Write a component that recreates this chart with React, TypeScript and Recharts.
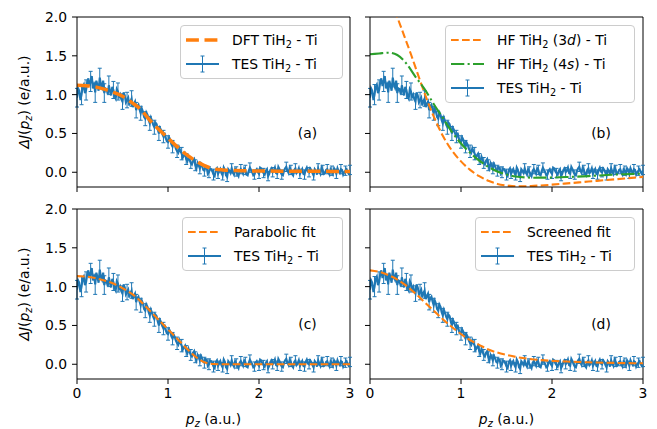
import React from "react";
import { ComposedChart, Line, XAxis, YAxis, ErrorBar, ReferenceLine } from "recharts";

/* ── Colours / fonts ─────────────────────────────────── */

const FONT = "'DejaVu Sans', sans-serif";
const FS = 13.9;
const BLUE = "#1f77b4";
const ORANGE = "#ff7f0e";
const GREEN = "#2ca02c";

/* ── Data ────────────────────────────────────────────── */

// TES measurement, p_z = 0 … 3 a.u. in steps of 0.0125
const P_STEP = 0.0125;
const TES = [
  0.96, 1.08, 1.05, 0.93, 1.0, 1.1, 1.13, 1.02, 1.06, 1.16, 1.21, 1.11, 1.17, 1.24, 1.08, 1.15, 1.03, 1.18, 1.12, 1.05,
  1.22, 1.13, 1.09, 1.18, 1.02, 1.08, 1.07, 1.01, 1.12, 1.05, 0.99, 1.1, 1.06, 0.98, 0.95, 1.07, 1.04, 0.97, 1.0, 0.94,
  0.91, 1.03, 0.99, 0.9, 0.93, 0.96, 0.86, 0.92, 0.95, 0.84, 0.88, 0.91, 0.8, 0.85, 0.87, 0.81, 0.76, 0.82, 0.78, 0.71,
  0.69, 0.77, 0.74, 0.67, 0.63, 0.7, 0.66, 0.61, 0.58, 0.64, 0.62, 0.55, 0.5, 0.57, 0.54, 0.49, 0.46, 0.51, 0.44, 0.4,
  0.39, 0.45, 0.42, 0.36, 0.33, 0.38, 0.35, 0.3, 0.27, 0.25, 0.31, 0.27, 0.24, 0.19, 0.22, 0.24, 0.17, 0.14, 0.2, 0.16,
  0.12, 0.1, 0.15, 0.17, 0.09, 0.05, 0.12, 0.09, 0.05, 0.11, 0.08, 0.03, 0.02, 0.07, 0.06, -0.02, 0.0, 0.05, 0.04, 0.01,
  -0.03, -0.05, 0.03, 0.05, -0.02, 0.01, 0.04, -0.01, -0.04, 0.06, 0.03, -0.04, -0.06, 0.04, 0.02, -0.01, 0.05, 0.0, -0.03, 0.04,
  0.01, -0.02, -0.05, 0.02, 0.04, 0.01, -0.02, 0.05, 0.03, -0.03, -0.04, 0.02, 0.06, 0.03, 0.0, -0.04, -0.03, 0.02, 0.04, 0.0,
  -0.02, 0.06, 0.05, 0.01, -0.01, -0.03, 0.02, 0.04, -0.05, -0.02, 0.03, 0.05, 0.0, 0.02, 0.06, -0.01, -0.02, 0.07, 0.04, 0.0,
  -0.03, -0.04, 0.02, 0.05, 0.07, 0.02, -0.01, 0.06, 0.03, -0.02, -0.04, 0.03, 0.05, -0.01, 0.01, 0.05, -0.02, 0.01, 0.04, -0.02,
  -0.03, 0.03, 0.06, 0.01, 0.0, 0.05, 0.03, -0.01, -0.04, 0.04, 0.02, -0.03, 0.05, 0.01, -0.02, 0.06, 0.03, -0.02, -0.01, 0.03,
  0.04, 0.0, -0.03, 0.04, 0.02, -0.02, 0.05, 0.02, -0.02, 0.05, 0.01, -0.01, 0.04, 0.03, -0.03, 0.0, 0.02, 0.04, 0.0, -0.02,
  0.03,
];

// error bars on every 4th TES point (every 0.05 a.u.)
const ERR_EVERY = 4;
const TES_ERR = [
  0.12, 0.13, 0.13, 0.13, 0.13, 0.12, 0.12, 0.12, 0.11, 0.11,
  0.1, 0.1, 0.1, 0.1, 0.09, 0.09, 0.09, 0.09, 0.09, 0.08,
  0.08, 0.08, 0.08, 0.08, 0.07, 0.07, 0.07, 0.07, 0.07, 0.07,
  0.07, 0.06, 0.06, 0.06, 0.06, 0.06, 0.06, 0.06, 0.06, 0.06,
  0.06, 0.06, 0.06, 0.06, 0.06, 0.06, 0.06, 0.06, 0.06, 0.06,
  0.06, 0.06, 0.06, 0.06, 0.06, 0.06, 0.06, 0.06, 0.06, 0.06, 0.06,
];

const FIT_P = [0, 0.1, 0.2, 0.3, 0.4, 0.5, 0.6, 0.7, 0.8, 0.9, 1.0, 1.1, 1.2, 1.3, 1.4, 1.5, 1.6, 1.8, 2.0, 2.2, 2.4, 2.6, 2.8, 3.0];
const DFT = [1.12, 1.115, 1.1, 1.07, 1.03, 0.98, 0.9, 0.81, 0.67, 0.55, 0.44, 0.33, 0.23, 0.15, 0.085, 0.045, 0.03, 0.02, 0.016, 0.014, 0.013, 0.012, 0.011, 0.01];
const PARABOLIC = [1.135, 1.13, 1.11, 1.08, 1.04, 0.98, 0.91, 0.81, 0.69, 0.57, 0.45, 0.33, 0.21, 0.1, 0.025, 0.003, 0, 0, 0, 0, 0, 0, 0, 0];
const SCREENED = [1.21, 1.19, 1.15, 1.09, 1.01, 0.91, 0.8, 0.69, 0.58, 0.48, 0.39, 0.31, 0.25, 0.19, 0.15, 0.12, 0.095, 0.062, 0.044, 0.033, 0.025, 0.019, 0.015, 0.012];
const HF_4S = [1.52, 1.53, 1.54, 1.51, 1.4, 1.23, 1.07, 0.88, 0.7, 0.52, 0.37, 0.25, 0.15, 0.07, 0.01, -0.03, -0.055, -0.07, -0.068, -0.06, -0.05, -0.035, -0.025, -0.018];

const HF_3D_P = [0.2, 0.25, 0.3, 0.35, 0.4, 0.45, 0.5, 0.55, 0.6, 0.65, 0.7, 0.8, 0.9, 1.0, 1.1, 1.2, 1.3, 1.4, 1.5, 1.6, 1.7, 1.8, 2.0, 2.2, 2.4, 2.6, 2.8, 3.0];
const HF_3D = [2.36, 2.18, 2.0, 1.84, 1.68, 1.52, 1.35, 1.18, 1.02, 0.86, 0.72, 0.47, 0.28, 0.14, 0.03, -0.05, -0.11, -0.15, -0.17, -0.18, -0.18, -0.175, -0.16, -0.14, -0.12, -0.1, -0.08, -0.06];

const X_TICKS = [0, 1, 2, 3];
const Y_TICKS = [0, 0.5, 1, 1.5, 2];
const Y_DOMAIN: [number, number] = [-0.19, 2];

/* ── Rows for recharts ───────────────────────────────── */

const tesRows = TES.map((y, i) => ({ p: i * P_STEP, y }));
const errRows = TES_ERR.map((e, k) => ({ p: k * ERR_EVERY * P_STEP, y: TES[k * ERR_EVERY], e }));
const zip = (xs: number[], ys: number[]) => xs.map((p, i) => ({ p, y: ys[i] }));

/* ── Line styles ─────────────────────────────────────── */

interface Style { color: string; width: number; dash?: string }
const TES_STYLE: Style = { color: BLUE, width: 2.1 };
const DFT_STYLE: Style = { color: ORANGE, width: 3.5, dash: "12.9 5.6" };
const FIT_STYLE: Style = { color: ORANGE, width: 2.1, dash: "7.7 3.3" };
const HF4S_STYLE: Style = { color: GREEN, width: 2.1, dash: "13.3 3.3 2.1 3.3" };

interface Fit { rows: { p: number; y: number }[]; style: Style }

/* ── Legend ──────────────────────────────────────────── */

const TiH2 = () => (
  <>TiH<sub style={{ fontSize: "70%", verticalAlign: "-0.3em", lineHeight: 0 }}>2</sub></>
);

interface LegendRow { style: Style; label: React.ReactNode; err?: boolean }

function Handle({ style, err }: { style: Style; err?: boolean }) {
  return (
    <svg width={33} height={24} style={{ display: "block", flex: "none" }}>
      <line x1={0} x2={33} y1={12} y2={12} stroke={style.color} strokeWidth={style.width} strokeDasharray={style.dash} />
      {err && (
        <g stroke={style.color} strokeWidth={1}>
          <line x1={16.5} x2={16.5} y1={4} y2={20} />
          <line x1={14.5} x2={18.5} y1={4} y2={4} />
          <line x1={14.5} x2={18.5} y1={20} y2={20} />
        </g>
      )}
    </svg>
  );
}

function LegendBox({ left, top, width, rows }: { left: number; top: number; width: number; rows: LegendRow[] }) {
  return (
    <div
      style={{
        position: "absolute", left, top, width, boxSizing: "border-box",
        border: "1px solid #cccccc", borderRadius: 4, background: "rgba(255,255,255,0.8)",
        padding: "2px 0", fontFamily: FONT, fontSize: FS, color: "#000",
      }}
    >
      {rows.map((r, i) => (
        <div key={i} style={{ display: "flex", alignItems: "center", height: 24, paddingLeft: 5, whiteSpace: "nowrap" }}>
          <Handle style={r.style} err={r.err} />
          <span style={{ marginLeft: 13 }}>{r.label}</span>
        </div>
      ))}
    </div>
  );
}

const TES_ROW: LegendRow = { style: TES_STYLE, err: true, label: <>TES <TiH2 /> - Ti</> };

/* ── One panel ───────────────────────────────────────── */

interface PanelProps {
  left: number; top: number; width: number; height: number;
  plot: { left: number; top: number; right: number; bottom: number };
  xLabels: boolean; yLabels: boolean;
  fits: Fit[];
}

function Panel({ left, top, width, height, plot, xLabels, yLabels, fits }: PanelProps) {
  const yW = yLabels ? 45 : 8;
  const xH = xLabels ? 25 : 8;
  const margin = {
    top: plot.top - top,
    left: plot.left - left - yW,
    right: left + width - plot.right,
    bottom: top + height - plot.bottom - xH,
  };
  const tickStyle = { fill: "#000", fontSize: FS, fontFamily: FONT };
  return (
    <div style={{ position: "absolute", left, top, width, height }}>
      <ComposedChart width={width} height={height} margin={margin} data={tesRows}>
        <XAxis
          type="number" dataKey="p" domain={[0, 3]} ticks={X_TICKS} interval={0}
          allowDataOverflow height={xH} tickSize={5} tickMargin={4}
          axisLine={{ stroke: "#000", strokeWidth: 1 }} tickLine={{ stroke: "#000", strokeWidth: 1 }}
          tick={tickStyle} tickFormatter={(v: number) => (xLabels ? String(v) : "")}
        />
        <YAxis
          type="number" domain={Y_DOMAIN} ticks={Y_TICKS} interval={0}
          allowDataOverflow width={yW} tickSize={5} tickMargin={5}
          axisLine={{ stroke: "#000", strokeWidth: 1 }} tickLine={{ stroke: "#000", strokeWidth: 1 }}
          tick={tickStyle} tickFormatter={(v: number) => (yLabels ? v.toFixed(1) : "")}
        />
        {/* top / right spines */}
        <ReferenceLine y={2} stroke="#000" strokeWidth={1} />
        <ReferenceLine x={3} stroke="#000" strokeWidth={1} />

        {/* error bars only */}
        <Line data={errRows} dataKey="y" stroke="none" dot={false} activeDot={false} isAnimationActive={false}>
          <ErrorBar dataKey="e" direction="y" width={2} stroke={BLUE} strokeWidth={1} isAnimationActive={false} />
        </Line>
        <Line
          dataKey="y" type="linear" stroke={TES_STYLE.color} strokeWidth={TES_STYLE.width}
          dot={false} activeDot={false} isAnimationActive={false}
        />
        {fits.map((f, i) => (
          <Line
            key={i} data={f.rows} dataKey="y" type="monotone"
            stroke={f.style.color} strokeWidth={f.style.width} strokeDasharray={f.style.dash}
            dot={false} activeDot={false} isAnimationActive={false}
          />
        ))}
      </ComposedChart>
    </div>
  );
}

/* ── Axis titles ─────────────────────────────────────── */

function YTitle({ x, y }: { x: number; y: number }) {
  return (
    <text transform={`translate(${x},${y}) rotate(-90)`} textAnchor="middle">
      <tspan fontStyle="italic">ΔJ</tspan>(<tspan fontStyle="italic">p</tspan>
      <tspan fontStyle="italic" fontSize={9.7} dy={2.5}>z</tspan>
      <tspan dy={-2.5}>) (e/a.u.)</tspan>
    </text>
  );
}

function XTitle({ x, y }: { x: number; y: number }) {
  return (
    <text x={x} y={y} textAnchor="middle">
      <tspan fontStyle="italic">p</tspan>
      <tspan fontStyle="italic" fontSize={9.7} dy={2.5}>z</tspan>
      <tspan dy={-2.5}> (a.u.)</tspan>
    </text>
  );
}

/* ── Figure ──────────────────────────────────────────── */

export default function App() {
  const plotA = { left: 77, top: 17, right: 350, bottom: 187 };
  const plotB = { left: 370, top: 17, right: 643, bottom: 187 };
  const plotC = { left: 77, top: 209, right: 350, bottom: 379 };
  const plotD = { left: 370, top: 209, right: 643, bottom: 379 };

  return (
    <div style={{ position: "absolute", left: 0, top: 0, width: 657, height: 429, background: "#fff" }}>
      <Panel left={0} top={0} width={360} height={200} plot={plotA} xLabels={false} yLabels
        fits={[{ rows: zip(FIT_P, DFT), style: DFT_STYLE }]} />
      <Panel left={360} top={0} width={297} height={200} plot={plotB} xLabels={false} yLabels={false}
        fits={[{ rows: zip(HF_3D_P, HF_3D), style: FIT_STYLE }, { rows: zip(FIT_P, HF_4S), style: HF4S_STYLE }]} />
      <Panel left={0} top={200} width={360} height={229} plot={plotC} xLabels yLabels
        fits={[{ rows: zip(FIT_P, PARABOLIC), style: FIT_STYLE }]} />
      <Panel left={360} top={200} width={297} height={229} plot={plotD} xLabels yLabels={false}
        fits={[{ rows: zip(FIT_P, SCREENED), style: FIT_STYLE }]} />

      <LegendBox left={180} top={25} width={163} rows={[
        { style: DFT_STYLE, label: <>DFT <TiH2 /> - Ti</> }, TES_ROW,
      ]} />
      <LegendBox left={445} top={25} width={190} rows={[
        { style: FIT_STYLE, label: <>HF <TiH2 /> (3<i>d</i>) - Ti</> },
        { style: HF4S_STYLE, label: <>HF <TiH2 /> (4<i>s</i>) - Ti</> },
        TES_ROW,
      ]} />
      <LegendBox left={182} top={217} width={161} rows={[
        { style: FIT_STYLE, label: <>Parabolic fit</> }, TES_ROW,
      ]} />
      <LegendBox left={475} top={217} width={160} rows={[
        { style: FIT_STYLE, label: <>Screened fit</> }, TES_ROW,
      ]} />

      <svg width={657} height={429} style={{ position: "absolute", left: 0, top: 0, pointerEvents: "none" }}
        fontFamily={FONT} fontSize={FS} fill="#000">
        <YTitle x={29} y={102} />
        <YTitle x={29} y={294} />
        <XTitle x={213.5} y={424} />
        <XTitle x={506.5} y={424} />
        <text x={307.5} y={138} textAnchor="middle">(a)</text>
        <text x={601} y={138} textAnchor="middle">(b)</text>
        <text x={307.5} y={328.5} textAnchor="middle">(c)</text>
        <text x={601} y={328.5} textAnchor="middle">(d)</text>
      </svg>
    </div>
  );
}
